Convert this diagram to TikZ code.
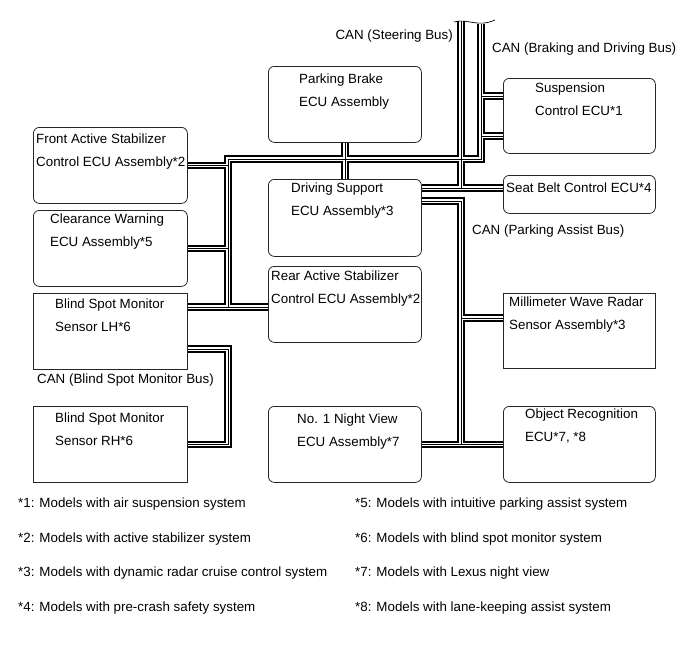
\documentclass[tikz,border=0pt]{standalone}
\usepackage{fontspec}
\setmainfont{Liberation Sans}
\usetikzlibrary{calc}

% all bus runs, drawn three times (outer, channel, core)
\newcommand{\busnet}{
  (stTop) -- (stTop |- stJ)
  (dss.east |- stJ) -- (stJ)
  (brTop) -- (brJ) -- (lvJ) -- (lvB)
  (susA) -- (brTop |- susA)
  (susB) -- (brTop |- susB)
  (fas.east) -- (fas.east -| lvJ)
  (clw.east) -- (clw.east -| lvJ)
  (bsl.east |- lvB) -- (ras.west |- lvB)
  (pkb.south) -- (dss.north)
  (dss.east |- paJ) -- (paJ) -- (paJ |- nvw.east)
  (nvw.east) -- (orc.west)
  (mwrA) -- (mwrA -| paJ)
  (bsl.east |- bmJ) -- (bmJ) -- (bmJ |- bsr.east) -- (bsr.east)
}

\begin{document}
\begin{tikzpicture}[x=1pt, y=-1pt,
  font=\fontsize{13.35}{23.5}\selectfont,
  ecu/.style={draw=black!85, line width=0.8pt, fill=white, rounded corners=6pt, anchor=north west,
              inner sep=0pt, minimum width=153pt, minimum height=76pt},
  sensor/.style={ecu, sharp corners},
  txt/.style={anchor=north west, inner sep=0pt, align=left},
  lbl/.style={anchor=west, inner sep=0pt},
  busout/.style={line width=7.4pt},
  busin/.style={white, line width=3.4pt},
  buscore/.style={line width=0.6pt}]
  \useasboundingbox (0,0) rectangle (689,659);

  % ECUs and sensors
  \node[ecu] (pkb) at (268,66) {};
  \node[ecu, minimum width=154pt] (fas) at (33,127) {};
  \node[ecu, minimum width=154pt] (clw) at (33,210) {};
  \node[sensor, minimum width=154pt] (bsl) at (33,293) {};
  \node[sensor, minimum width=154pt] (bsr) at (33,406) {};
  \node[ecu, minimum height=77pt] (dss) at (268,179) {};
  \node[ecu] (ras) at (268,266) {};
  \node[ecu] (nvw) at (268,406) {};
  \node[ecu, minimum width=152pt, minimum height=75pt] (sus) at (503,78) {};
  \node[ecu, minimum width=152pt, minimum height=38pt] (sbt) at (503,175) {};
  \node[sensor, minimum width=152pt, minimum height=75pt] (mwr) at (503,293) {};
  \node[ecu, minimum width=152pt] (orc) at (503,406) {};

  \node[txt] (pkb-t) at ($(pkb.north west)+(31,7.2)$) {Parking Brake\\ECU Assembly};
  \node[txt] (fas-t) at ($(fas.north west)+(3,6.2)$) {Front Active Stabilizer\\Control ECU Assembly*2};
  \node[txt] (clw-t) at ($(clw.north west)+(17,3.2)$) {Clearance Warning\\ECU Assembly*5};
  \node[txt] (bsl-t) at ($(bsl.north west)+(22,5.2)$) {Blind Spot Monitor\\Sensor LH*6};
  \node[txt] (bsr-t) at ($(bsr.north west)+(22,6.2)$) {Blind Spot Monitor\\Sensor RH*6};
  \node[txt] (dss-t) at ($(dss.north west)+(23,3.2)$) {Driving Support\\ECU Assembly*3};
  \node[txt] (ras-t) at ($(ras.north west)+(3,4.2)$) {Rear Active Stabilizer\\Control ECU Assembly*2};
  \node[txt] (nvw-t) at ($(nvw.north west)+(29,7.2)$) {No. 1 Night View\\ECU Assembly*7};
  \node[txt] (sus-t) at ($(sus.north west)+(32,4.2)$) {Suspension\\Control ECU*1};
  \node[txt] (sbt-t) at ($(sbt.north west)+(3,7.2)$) {Seat Belt Control ECU*4};
  \node[txt] (mwr-t) at ($(mwr.north west)+(6,3.2)$) {Millimeter Wave Radar\\Sensor Assembly*3};
  \node[txt] (orc-t) at ($(orc.north west)+(22,2.2)$) {Object Recognition\\ECU*7, *8};

  % bus corners and tees
  \coordinate (stTop) at (461,21);
  \coordinate (brTop) at (481,24);
  \coordinate (stJ) at ($(sbt.north west)+(0,13)$);
  \coordinate (brJ) at (481,159);
  \coordinate (lvJ) at (228,159);
  \coordinate (lvB) at (228,307);
  \coordinate (paJ) at (461,201);
  \coordinate (bmJ) at (228,349);
  \coordinate (susA) at ($(sus.west)+(0,-20)$);
  \coordinate (susB) at ($(sus.west)+(0,20)$);
  \coordinate (mwrA) at ($(mwr.west)+(0,-13)$);

  \draw[busout] \busnet;
  \draw[busin] \busnet;
  \draw[buscore] \busnet;
  \draw[line width=0.7pt] (454,22) .. controls (468,18) and (477,28) .. (495,20);

  \node[lbl, anchor=east] (stbus) at (453,36) {CAN (Steering Bus)};
  \node[lbl] (brbus) at (492,49) {CAN (Braking and Driving Bus)};
  \node[lbl] (pabus) at (472,231) {CAN (Parking Assist Bus)};
  \node[lbl] (bmbus) at (37,380) {CAN (Blind Spot Monitor Bus)};

  % notes
  \node[lbl] (fn1) at (18,504) {*1: Models with air suspension system};
  \node[lbl] (fn2) at (18,539) {*2: Models with active stabilizer system};
  \node[lbl] (fn3) at (18,573) {*3: Models with dynamic radar cruise control system};
  \node[lbl] (fn4) at (18,608) {*4: Models with pre-crash safety system};
  \node[lbl] (fn5) at (355,504) {*5: Models with intuitive parking assist system};
  \node[lbl] (fn6) at (355,539) {*6: Models with blind spot monitor system};
  \node[lbl] (fn7) at (355,573) {*7: Models with Lexus night view};
  \node[lbl] (fn8) at (355,608) {*8: Models with lane-keeping assist system};
\end{tikzpicture}
\end{document}
